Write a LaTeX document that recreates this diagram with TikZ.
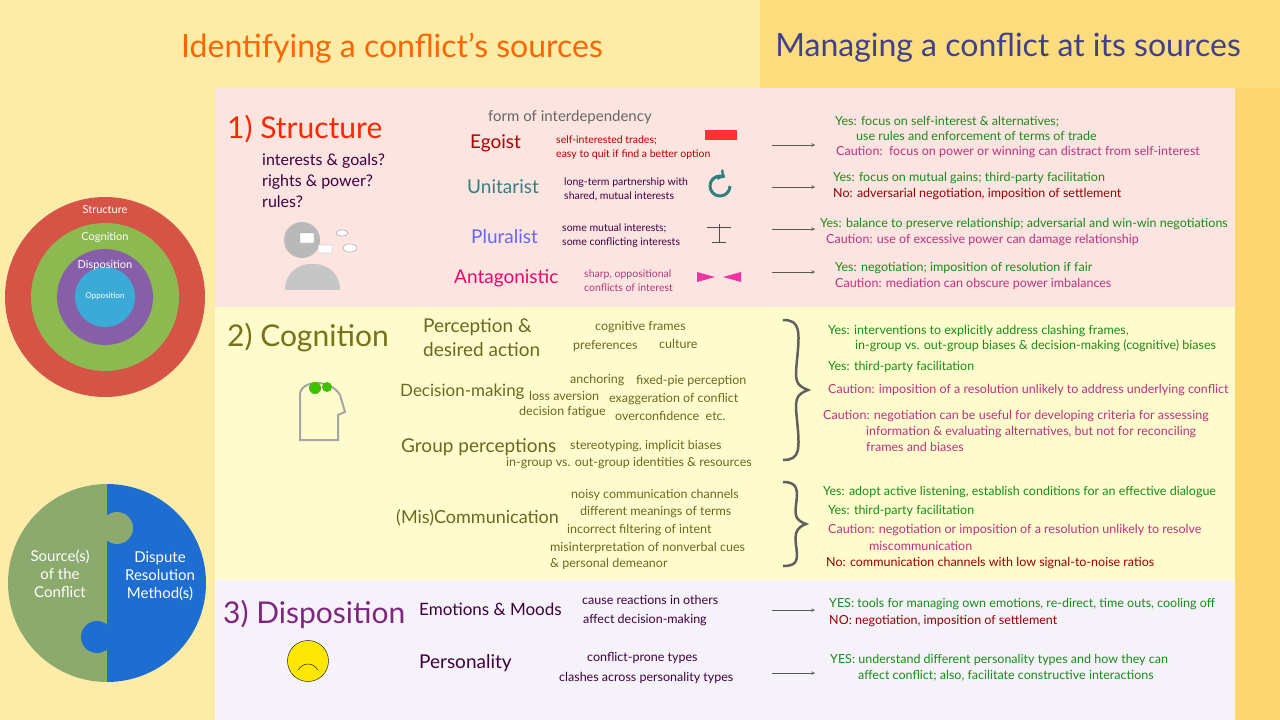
\documentclass[tikz,border=0pt]{standalone}
\usepackage{fontspec}
\setmainfont{Lato}
\definecolor{bgl}{RGB}{253,236,168}
\definecolor{bgr}{RGB}{252,220,125}
\definecolor{bgs}{RGB}{252,214,110}
\definecolor{pnk}{RGB}{252,228,224}
\definecolor{ylw}{RGB}{254,252,204}
\definecolor{lav}{RGB}{245,242,250}
\definecolor{ringr}{RGB}{214,84,70}
\definecolor{ringg}{RGB}{140,185,80}
\definecolor{ringv}{RGB}{135,95,168}
\definecolor{ringc}{RGB}{60,170,215}
\definecolor{pzg}{RGB}{140,170,110}
\definecolor{pzb}{RGB}{30,110,210}
\begin{document}
\begin{tikzpicture}[x=1pt,y=-1pt,
 t/.style={anchor=west,inner sep=0pt,font=\fontsize{12.5}{15}\selectfont},
 g/.style={t,text=green!50!black!90},
 rd/.style={t,text=red!60!black},
 pk/.style={t,text=magenta!75!black},
 sm/.style={t,text=olive!70!black,font=\fontsize{12.5}{15}\selectfont},
 ar/.style={-stealth,gray!70!black,line width=0.6pt},
 sub/.style={t,font=\fontsize{19}{22}\selectfont},
 hd/.style={anchor=west,inner sep=0pt,font=\fontsize{30}{32}\selectfont}]
\fill[bgl] (0,0) rectangle (1280,720);
\fill[bgr] (760,0) rectangle (1280,88);
\fill[bgs] (1235,88) rectangle (1280,720);
\fill[pnk] (215,88) rectangle (1235,307);
\fill[ylw] (215,307) rectangle (1235,580);
\fill[lav] (215,580) rectangle (1235,720);
\useasboundingbox (0,0) rectangle (1280,720);
\node[inner sep=0pt,text=orange!80!red,font=\fontsize{32}{34}\selectfont] (h1) at (392,48) {Identifying a conflict's sources};
\node[inner sep=0pt,text=blue!40!black!75,font=\fontsize{32}{34}\selectfont] (h2) at (1008,48) {Managing a conflict at its sources};
% circles
\fill[ringr] (105,297) circle (100);
\fill[ringg] (105,297) circle (74);
\fill[ringv] (105,297) circle (48);
\fill[ringc] (105,297) circle (30);
\node[text=white,font=\fontsize{11}{12}\selectfont] (c1) at (105,210) {Structure};
\node[text=white,font=\fontsize{11}{12}\selectfont] (c2) at (105,237) {Cognition};
\node[text=white,font=\fontsize{11}{12}\selectfont] (c3) at (105,265) {Disposition};
\node[text=white,font=\fontsize{8}{9}\selectfont] (c4) at (105,296) {Opposition};
% puzzle
\begin{scope}
\clip (107,583) circle (99);
\fill[pzg] (0,470) rectangle (107,700);
\fill[pzb] (107,470) rectangle (220,700);
\end{scope}
\fill[pzg] (117,528) circle (16);
\fill[pzb] (97,637) circle (16);
\node[text=white,align=center,font=\fontsize{15}{18}\selectfont] (p1) at (60,574) {Source(s)\\of the\\Conflict};
\node[text=white,align=center,font=\fontsize{15}{18}\selectfont] (p2) at (160,576) {Dispute\\Resolution\\Method(s)};
% Structure
\node[hd,text=red!70!orange] (s) at (227,129) {1) Structure};
\node[t,align=left,text=violet!50!black,font=\fontsize{16}{21}\selectfont] (sq) at (262,181) {interests \& goals?\\rights \& power?\\rules?};
\fill[gray!55] (302,240) circle (18);
\fill[gray!45] (285,290) .. controls (285,255) and (340,255) .. (340,290) -- cycle;
\draw[gray!80,fill=white] (300,233) rectangle (314,243) (318,245) rectangle (332,253) (342,233) ellipse (6 and 3) (350,248) ellipse (7 and 4);
\node[t,text=gray!80!black,font=\fontsize{15}{16}\selectfont] (fi) at (488,117) {form of interdependency};
\node[sub,text=red!70!black] (eg) at (470,143) {Egoist};
\node[t,text=red!70!black,align=left,font=\fontsize{10.5}{14}\selectfont] (egd) at (556,148) {self-interested trades;\\easy to quit if find a better option};
\node[sub,text=teal!60!gray] (un) at (467,187) {Unitarist};
\node[t,text=violet!50!black,align=left,font=\fontsize{10.5}{14}\selectfont] (und) at (564,189) {long-term partnership with\\shared, mutual interests};
\node[sub,text=blue!60] (pl) at (471,237) {Pluralist};
\node[t,text=violet!50!black,align=left,font=\fontsize{10.5}{14}\selectfont] (pld) at (562,236) {some mutual interests;\\some conflicting interests};
\node[sub,text=magenta!70!red] (an) at (454,278) {Antagonistic};
\node[t,text=magenta!70!black,align=left,font=\fontsize{10.5}{14}\selectfont] (and) at (584,281) {sharp, oppositional\\conflicts of interest};
\fill[red!80] (705,130) rectangle (737,140);
\draw[teal!60!gray,line width=3pt,->] (730,186) arc (0:300:10);
\draw[gray!60!black] (719,224) -- (719,242) (707,227) -- (731,227) (712,242)--(726,242);
\fill[magenta!80] (697,272) -- (715,277) -- (697,282) -- cycle (741,272) -- (723,277) -- (741,282) -- cycle;
\coordinate (a1) at (772,145); \coordinate (a1e) at (815,145);
\coordinate (a2) at (772,187); \coordinate (a2e) at (815,187);
\coordinate (a3) at (772,229); \coordinate (a3e) at (815,229);
\coordinate (a4) at (772,272); \coordinate (a4e) at (815,272);
\draw[ar] (a1)--(a1e); \draw[ar] (a2)--(a2e); \draw[ar] (a3)--(a3e); \draw[ar] (a4)--(a4e);
\node[g] (r1) at (835,122) {Yes: focus on self-interest \& alternatives;};
\node[g] (r2) at (856,136) {use rules and enforcement of terms of trade};
\node[pk] (r3) at (836,152) {Caution:\ \ focus on power or winning can distract from self-interest};
\node[g] (r4) at (833,178) {Yes: focus on mutual gains; third-party facilitation};
\node[rd] (r5) at (833,194) {No: adversarial negotiation, imposition of settlement};
\node[g] (r6) at (820,224) {Yes: balance to preserve relationship; adversarial and win-win negotiations};
\node[pk] (r7) at (826,240) {Caution: use of excessive power can damage relationship};
\node[g] (r8) at (835,268) {Yes: negotiation; imposition of resolution if fair};
\node[pk] (r9) at (835,284) {Caution: mediation can obscure power imbalances};
% Cognition
\node[hd,text=olive!80!black] (cg) at (227,338) {2) Cognition};
\draw[gray!70,line width=2pt] (300,440) -- (300,395) .. controls (300,380) and (330,378) .. (340,395) -- (345,412) -- (338,415) -- (338,440) -- cycle;
\fill[green!50!olive] (315,388) circle (6) (327,387) circle (5);
\node[sub,text=olive!70!black,align=left,font=\fontsize{19}{24}\selectfont] (pa) at (423,338) {Perception \&\\desired action};
\node[sm] (pa1) at (595,327) {cognitive frames};
\node[sm] (pa2) at (573,346) {preferences};
\node[sm] (pa3) at (659,344) {culture};
\node[sub,text=olive!70!black,font=\fontsize{17}{20}\selectfont] (dm) at (400,392) {Decision-making};
\node[sm] (d1) at (570,380) {anchoring};
\node[sm] (d2) at (636,381) {fixed-pie perception};
\node[sm] (d3) at (529,396) {loss aversion};
\node[sm] (d4) at (609,399) {exaggeration of conflict};
\node[sm] (d5) at (519,412) {decision fatigue};
\node[sm] (d6) at (615,416) {overconfidence\ \ etc.};
\node[sub,text=olive!70!black] (gp) at (401,447) {Group perceptions};
\node[sm] (g1) at (570,446) {stereotyping, implicit biases};
\node[sm] (g2) at (506,463) {in-group vs. out-group identities \& resources};
\node[sub,text=olive!70!black,font=\fontsize{18}{20}\selectfont] (mc) at (396,518) {(Mis)Communication};
\node[sm] (m1) at (571,495) {noisy communication channels};
\node[sm] (m2) at (580,512) {different meanings of terms};
\node[sm] (m3) at (567,530) {incorrect filtering of intent};
\node[sm] (m4) at (550,548) {misinterpretation of nonverbal cues};
\node[sm] (m5) at (550,564) {\& personal demeanor};
\draw[gray!75!black,line width=2.5pt] (783,320) .. controls (800,320) and (800,330) .. (797,360) .. controls (795,380) and (795,385) .. (808,390) .. controls (795,395) and (795,400) .. (797,420) .. controls (800,450) and (800,460) .. (783,460);
\draw[gray!75!black,line width=2.5pt] (783,482) .. controls (798,482) and (798,490) .. (796,505) .. controls (795,515) and (795,520) .. (806,524) .. controls (795,528) and (795,535) .. (796,545) .. controls (798,560) and (798,566) .. (783,566);
\node[g] (k1) at (828,331) {Yes: interventions to explicitly address clashing frames,};
\node[g] (k2) at (855,346) {in-group vs. out-group biases \& decision-making (cognitive) biases};
\node[g] (k3) at (828,367) {Yes: third-party facilitation};
\node[pk] (k4) at (828,390) {Caution: imposition of a resolution unlikely to address underlying conflict};
\node[pk,align=left,font=\fontsize{12.5}{16}\selectfont] (k5) at (823,431) {Caution: negotiation can be useful for developing criteria for assessing\\\hspace*{43pt}information \& evaluating alternatives, but not for reconciling\\\hspace*{43pt}frames and biases};
\node[g] (k6) at (823,492) {Yes: adopt active listening, establish conditions for an effective dialogue};
\node[g] (k7) at (828,511) {Yes: third-party facilitation};
\node[pk] (k8) at (828,530) {Caution: negotiation or imposition of a resolution unlikely to resolve};
\node[pk] (k9) at (869,546) {miscommunication};
\node[rd] (k10) at (826,563) {No: communication channels with low signal-to-noise ratios};
% Disposition
\node[hd,text=violet!70!gray] (ds) at (223,614) {3) Disposition};
\node[circle,fill=yellow!90!orange,draw=black,minimum size=41pt,inner sep=0pt] (face) at (308,661) {};
\draw (298,670) .. controls (303,662) and (313,662) .. (318,670);
\node[sub,text=violet!50!black,font=\fontsize{17}{20}\selectfont] (em) at (419,609) {Emotions \& Moods};
\node[sm,text=violet!50!black] (e1) at (582,600) {cause reactions in others};
\node[sm,text=violet!50!black] (e2) at (583,620) {affect decision-making};
\node[sub,text=violet!50!black] (pe) at (419,663) {Personality};
\node[sm,text=violet!50!black] (pe1) at (587,658) {conflict-prone types};
\node[sm,text=violet!50!black] (pe2) at (559,678) {clashes across personality types};
\coordinate (b1) at (772,610); \coordinate (b1e) at (815,610);
\coordinate (b2) at (772,673); \coordinate (b2e) at (815,673);
\draw[ar] (b1)--(b1e); \draw[ar] (b2)--(b2e);
\node[g] (q1) at (829,604) {YES: tools for managing own emotions, re-direct, time outs, cooling off};
\node[rd] (q2) at (829,621) {NO: negotiation, imposition of settlement};
\node[g] (q3) at (830,660) {YES: understand different personality types and how they can};
\node[g] (q4) at (858,676) {affect conflict; also, facilitate constructive interactions};
\end{tikzpicture}
\end{document}
